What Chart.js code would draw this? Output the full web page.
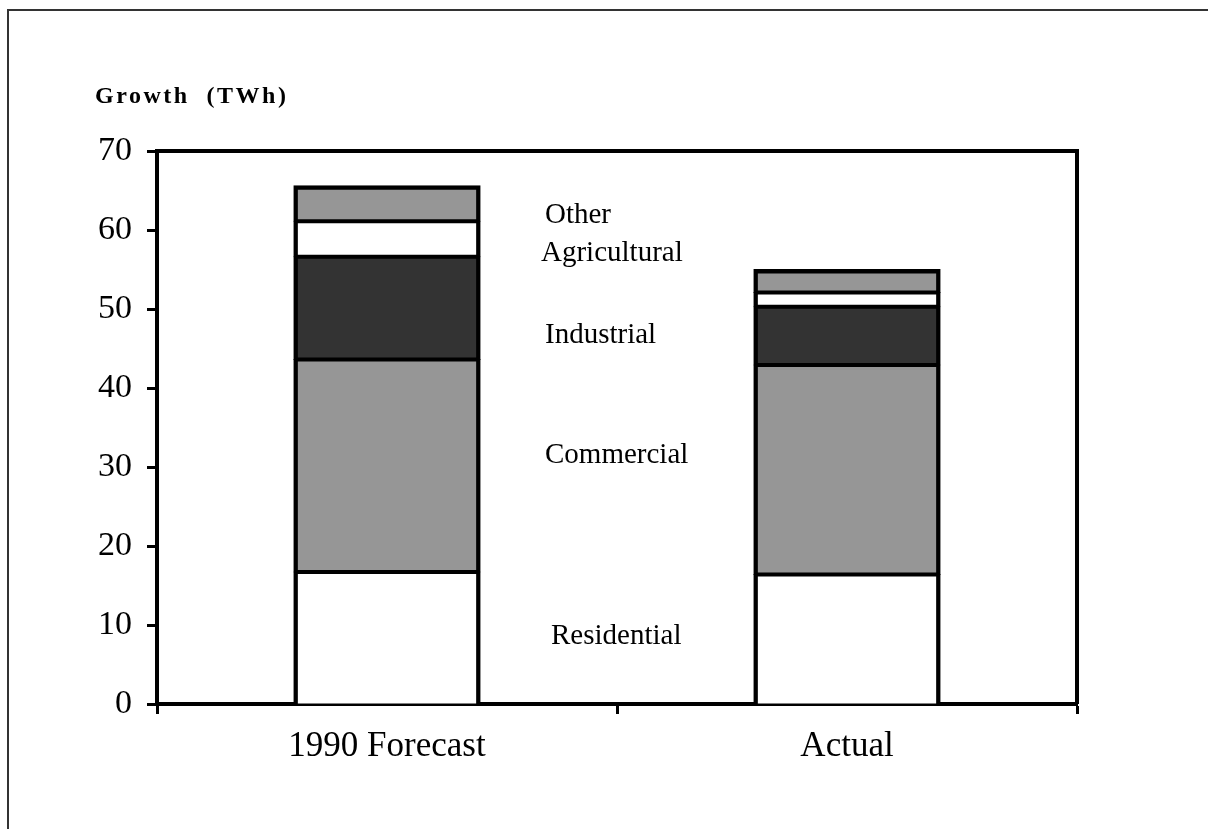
<!DOCTYPE html>
<html>
<head>
<meta charset="utf-8">
<script src="https://cdn.jsdelivr.net/npm/chart.js@4.4.1/dist/chart.umd.min.js"></script>
<style>
  html, body { margin: 0; padding: 0; background: #ffffff; }
  canvas { display: block; }
</style>
</head>
<body>
<canvas id="growth" width="1208" height="829"></canvas>
<script>
// Electricity demand growth by sector (TWh)
const categories = ['1990 Forecast', 'Actual'];
const sectors = ['Residential', 'Commercial', 'Industrial', 'Agricultural', 'Other'];
const residential  = [16.7, 16.4];
const commercial   = [26.9, 26.5];
const industrial   = [13.0, 7.4];
const agricultural = [4.5, 1.8];
const other        = [4.5, 2.9];
const yTicks = [0, 10, 20, 30, 40, 50, 60, 70];
const axisTitle = 'Growth  (TWh)';

const seriesValues = [residential, commercial, industrial, agricultural, other];
const fills = ['#ffffff', '#969696', '#333333', '#ffffff', '#969696'];

// Sector name placement: x in pixels, y in axis units (text baseline)
const sectorLabelPos = [
  { x: 551, v: 7.6 },
  { x: 545, v: 30.5 },
  { x: 545, v: 45.7 },
  { x: 541, v: 56.1 },
  { x: 545, v: 60.9 }
];

const SERIF = '"Liberation Serif", "Times New Roman", serif';

const datasets = sectors.map((name, i) => ({
  label: name,
  data: seriesValues[i],
  backgroundColor: fills[i],
  borderColor: '#000000',
  borderSkipped: false,
  borderWidth: {
    left: 4.5,
    right: 4.5,
    top: i === sectors.length - 1 ? 4.5 : 2.5,
    bottom: i === 0 ? 0 : 2.5
  },
  inflateAmount: 0.5,
  barPercentage: 0.405,
  categoryPercentage: 1.0
}));

// Outer page frame, plot box, axis title and sector names
const decorations = {
  id: 'decorations',
  beforeDraw(chart) {
    const ctx = chart.ctx;
    ctx.save();
    ctx.fillStyle = '#ffffff';
    ctx.fillRect(0, 0, chart.width, chart.height);
    ctx.strokeStyle = '#333333';
    ctx.lineWidth = 2;
    ctx.beginPath();
    ctx.moveTo(8, chart.height + 5);
    ctx.lineTo(8, 10);
    ctx.lineTo(chart.width + 5, 10);
    ctx.stroke();
    ctx.restore();
  },
  afterDraw(chart) {
    const ctx = chart.ctx;
    const area = chart.chartArea;
    const y = chart.scales.y;
    ctx.save();
    // top and right edges of the plot box
    ctx.strokeStyle = '#000000';
    ctx.lineWidth = 4;
    ctx.beginPath();
    ctx.moveTo(area.left - 2, area.top);
    ctx.lineTo(area.right, area.top);
    ctx.lineTo(area.right, area.bottom);
    ctx.stroke();

    // axis title
    ctx.fillStyle = '#000000';
    ctx.font = 'bold 24px ' + SERIF;
    ctx.textAlign = 'left';
    ctx.textBaseline = 'alphabetic';
    if ('letterSpacing' in ctx) ctx.letterSpacing = '2.5px';
    ctx.fillText(axisTitle, 95, 103);
    if ('letterSpacing' in ctx) ctx.letterSpacing = '0px';

    // sector names
    ctx.font = '29px ' + SERIF;
    chart.data.datasets.forEach((ds, i) => {
      const p = sectorLabelPos[i];
      ctx.fillText(ds.label, p.x, y.getPixelForValue(p.v));
    });
    ctx.restore();
  }
};

new Chart(document.getElementById('growth'), {
  type: 'bar',
  data: { labels: categories, datasets },
  options: {
    responsive: false,
    animation: false,
    layout: { padding: { top: 151, right: 131, left: 0, bottom: 0 } },
    plugins: {
      legend: { display: false },
      tooltip: { enabled: false },
      title: { display: false }
    },
    scales: {
      x: {
        stacked: true,
        offset: true,
        grid: {
          offset: true,
          drawOnChartArea: false,
          drawTicks: true,
          tickLength: 10,
          tickWidth: 3,
          tickColor: '#000000',
          color: '#000000'
        },
        border: { display: true, color: '#000000', width: 4 },
        ticks: {
          color: '#000000',
          font: { family: SERIF, size: 35 },
          padding: 12
        },
        afterFit(scale) { scale.height = 125; }
      },
      y: {
        stacked: true,
        min: 0,
        max: 70,
        afterBuildTicks(scale) { scale.ticks = yTicks.map(v => ({ value: v })); },
        grid: {
          drawOnChartArea: false,
          drawTicks: true,
          tickLength: 10,
          tickWidth: 3,
          tickColor: '#000000',
          color: '#000000'
        },
        border: { display: true, color: '#000000', width: 4 },
        ticks: {
          color: '#000000',
          font: { family: SERIF, size: 34 },
          padding: 15
        },
        afterFit(scale) { scale.width = 157; }
      }
    }
  },
  plugins: [decorations]
});
</script>
</body>
</html>
